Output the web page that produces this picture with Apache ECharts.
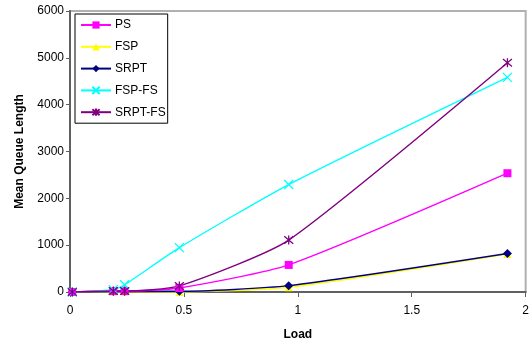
<!DOCTYPE html>
<html><head><meta charset="utf-8">
<script src="https://cdn.jsdelivr.net/npm/echarts@6/dist/echarts.min.js"></script>
<style>html,body{margin:0;padding:0;background:#fff}#c{width:532px;height:346px}</style>
</head><body><div id="c"></div>
<script>
var loads = [0.01, 0.19, 0.24, 0.48, 0.96, 1.92];
var PS = [0, 20, 20, 85, 578, 2536];
var FSP = [0, 10, 10, 0, 100, 810];
var SRPT = [0, 15, 15, 15, 135, 822];
var FSPFS = [0, 50, 155, 947, 2295, 4583];
var SRPTFS = [0, 20, 20, 130, 1108, 4894];
var yTicks = [0, 1000, 2000, 3000, 4000, 5000, 6000];
var xTicks = [0, 0.5, 1, 1.5, 2];

function pairs(v){ return loads.map(function(x,i){ return [x, v[i]]; }); }
var crossPath = 'path://M0,0L10,10M10,0L0,10';
var starPath = 'path://M0,0L10,10M10,0L0,10M5,-1L5,11';
function mk(name, data, color, symbol, size, stroke){
  return {
    name: name, type: 'line', data: pairs(data), smooth: 0.2,
    symbol: symbol, symbolSize: size, showSymbol: true,
    lineStyle: {color: color, width: 1.4},
    itemStyle: {color: color, borderColor: color, borderWidth: stroke ? 1.3 : 0},
    z: 3
  };
}
var chart = echarts.init(document.getElementById('c'));
chart.setOption({
  animation: false,
  backgroundColor: '#fff',
  textStyle: {fontFamily: 'Liberation Sans, Arial, sans-serif'},
  grid: {left: 70, right: 4, top: 11, bottom: 52, show: true, borderColor: '#b0b0b0', borderWidth: 2, backgroundColor: 'transparent'},
  legend: {
    orient: 'vertical', left: 75, top: 14,
    data: ['PS','FSP','SRPT','FSP-FS','SRPT-FS'],
    borderColor: '#000', borderWidth: 1, backgroundColor: '#fff',
    padding: [5, 2, 5, 5], itemGap: 9.8, itemWidth: 30, itemHeight: 9,
    textStyle: {fontSize: 12, color: '#000', fontFamily: 'Liberation Sans, Arial, sans-serif', padding: [0,0,0,-1]}
  },
  xAxis: {
    type: 'value', min: 0, max: 2, interval: 0.5,
    name: 'Load', nameLocation: 'middle', nameGap: 37,
    nameTextStyle: {fontWeight: 'bold', fontSize: 12, color: '#000'},
    axisLine: {show: true, lineStyle: {color: '#606060', width: 2}},
    axisTick: {show: true, length: 5, lineStyle: {color: '#606060', width: 1}},
    axisLabel: {fontSize: 12, color: '#000', margin: 13, formatter: function(v){ return xTicks.indexOf(v) >= 0 ? String(v) : ''; }},
    splitLine: {show: false}
  },
  yAxis: {
    type: 'value', min: 0, max: 6000, interval: 1000,
    name: 'Mean Queue Length', nameLocation: 'middle', nameGap: 44,
    nameTextStyle: {fontWeight: 'bold', fontSize: 12, color: '#000'},
    axisLine: {show: true, lineStyle: {color: '#606060', width: 2}},
    axisTick: {show: true, length: 4, lineStyle: {color: '#606060', width: 1}},
    axisLabel: {fontSize: 12, color: '#000', margin: 6, formatter: function(v){ return yTicks.indexOf(v) >= 0 ? String(v) : ''; }},
    splitLine: {show: false}
  },
  series: [
    mk('FSP', FSP, '#FFFF00', 'triangle', 8, false),
    mk('SRPT', SRPT, '#000080', 'diamond', 9, false),
    mk('PS', PS, '#FF00FF', 'rect', 8, false),
    mk('FSP-FS', FSPFS, '#00FFFF', crossPath, 9, true),
    mk('SRPT-FS', SRPTFS, '#800080', starPath, 9, true)
  ]
});
</script></body></html>
